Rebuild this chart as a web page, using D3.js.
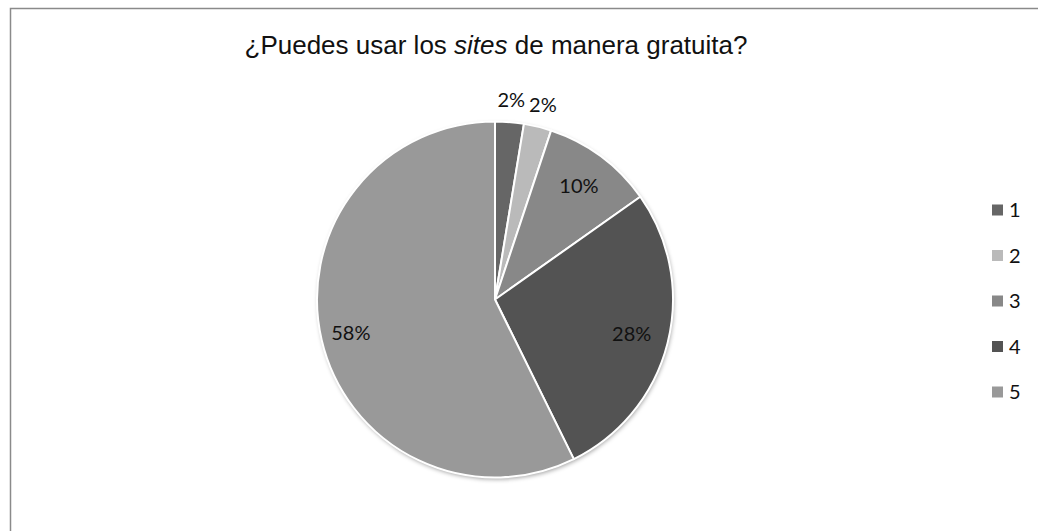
<!DOCTYPE html>
<meta charset="utf-8">
<script src="https://cdn.jsdelivr.net/npm/d3@7"></script>
<style>
  body { margin: 0; background: #fff; }
</style>
<div id="chart"></div>
<script>
// data
const categories = ["1", "2", "3", "4", "5"];
const values = [2.6, 2.5, 10.1, 27.5, 57.3];
const labels = ["2%", "2%", "10%", "28%", "58%"];
const colors = ["#666666", "#bababa", "#888888", "#535353", "#999999"];

const W = 1038, H = 531;
const cx = 495, cy = 299.5, R = 178;

const svg = d3.select("#chart").append("svg")
    .attr("width", W).attr("height", H);

// chart frame (right and bottom edges run off the page)
svg.append("rect")
    .attr("x", 10.5).attr("y", 8.5)
    .attr("width", W + 20).attr("height", H + 20)
    .attr("fill", "#fff")
    .attr("stroke", "#8a8a8a").attr("stroke-width", 1.5);

// title
const title = svg.append("text")
    .attr("x", 496).attr("y", 54)
    .attr("text-anchor", "middle")
    .style("font-family", "'Liberation Sans', Arial, sans-serif")
    .style("font-size", "26px")
    .attr("fill", "#111");
title.append("tspan").text("¿Puedes usar los ");
title.append("tspan").style("font-style", "italic").text("sites");
title.append("tspan").text(" de manera gratuita?");

// shadow
const defs = svg.append("defs");
defs.append("filter").attr("id", "shadow")
    .attr("x", "-10%").attr("y", "-10%").attr("width", "120%").attr("height", "120%")
  .append("feDropShadow")
    .attr("dx", 1).attr("dy", 2).attr("stdDeviation", 2)
    .attr("flood-color", "#000").attr("flood-opacity", 0.35);

const pie = d3.pie().sort(null).value(d => d)(values);
const arc = d3.arc().innerRadius(0).outerRadius(R);

const g = svg.append("g").attr("transform", `translate(${cx},${cy})`);

g.append("circle").attr("r", R).attr("fill", "#fff").attr("filter", "url(#shadow)");

g.selectAll("path.slice")
  .data(pie)
  .join("path")
    .attr("class", "slice")
    .attr("d", arc)
    .attr("fill", (d, i) => colors[i])
    .attr("stroke", "#fff")
    .attr("stroke-width", 2)
    .attr("stroke-linejoin", "round");

// slice labels: small ones outside, others inside
g.selectAll("text.lbl")
  .data(pie)
  .join("text")
    .attr("class", "lbl")
    .attr("transform", (d, i) => {
      const a = (d.startAngle + d.endAngle) / 2;
      const r = values[i] < 5 ? R + 22 : (values[i] > 50 ? 148 : 141);
      return `translate(${r * Math.sin(a)},${-r * Math.cos(a)})`;
    })
    .attr("text-anchor", "middle")
    .attr("dy", "0.35em")
    .style("font-family", "Lato, 'Open Sans', sans-serif")
    .style("font-size", "20px")
    .attr("fill", "#111")
    .text((d, i) => labels[i]);

// legend
const ly = d3.scalePoint().domain(categories).range([210, 392]);
const leg = svg.append("g").selectAll("g")
  .data(categories)
  .join("g")
    .attr("transform", d => `translate(992,${ly(d)})`);
leg.append("rect")
    .attr("x", 0).attr("y", -5.5)
    .attr("width", 11).attr("height", 11)
    .attr("fill", (d, i) => colors[i]);
leg.append("text")
    .attr("x", 17).attr("dy", "0.36em")
    .style("font-family", "Lato, 'Open Sans', sans-serif")
    .style("font-size", "20px")
    .attr("fill", "#111")
    .text(d => d);
</script>
